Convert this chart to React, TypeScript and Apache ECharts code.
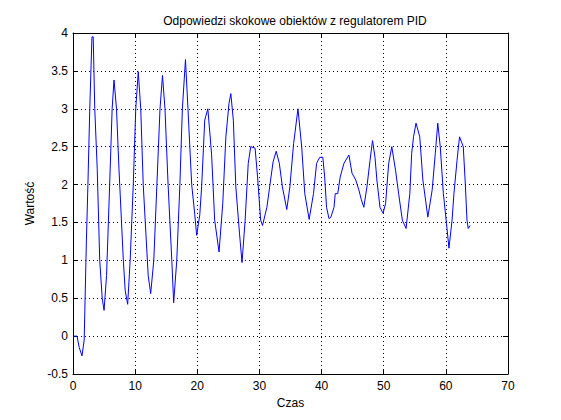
import React, { useEffect, useRef } from 'react';
import * as echarts from 'echarts';

// czas [s] i wartość wyjścia
const czas = [
    0, 0.65, 1.0, 1.45, 1.8, 2.15, 2.4, 2.7, 3.05, 3.25, 3.5, 3.9, 4.3, 4.7, 5.0, 5.4, 5.9, 6.3, 6.6, 7.0,
    7.4, 8.1, 8.4, 8.8, 9.2, 9.7, 10.1, 10.5, 10.9, 11.3, 12.1, 12.5, 13.0, 13.5, 14.0, 14.4, 14.8, 15.3,
    15.9, 16.2, 16.7, 17.2, 17.6, 18.1, 18.5, 19.1, 19.6, 19.9, 20.4, 20.7, 21.2, 21.7, 22.3, 22.8, 23.5,
    24.1, 24.6, 25.1, 25.4, 25.8, 26.2, 26.8, 27.2, 27.7, 28.2, 28.6, 29.3, 29.7, 30.2, 30.5, 31.2, 31.7,
    32.2, 32.7, 33.2, 33.7, 34.4, 34.9, 35.5, 36.2, 36.8, 37.3, 38.0, 38.7, 39.2, 39.7, 40.2, 40.5, 40.8,
    41.2, 41.5, 42.0, 42.2, 42.6, 43.0, 43.6, 44.4, 44.9, 45.5, 46.0, 46.4, 46.8, 47.3, 47.8, 48.2, 48.6,
    48.9, 49.4, 49.9, 50.3, 50.8, 51.3, 51.9, 52.4, 53.0, 53.6, 54.2, 54.5, 54.8, 55.2, 55.8, 56.3, 57.1,
    57.8, 58.3, 58.7, 59.1, 59.6, 60.1, 60.5, 61.0, 61.3, 61.8, 62.2, 62.8, 63.1, 63.4, 63.6, 63.9,
];

const wartosc = [
    0, 0, -0.15, -0.26, -0.05, 1.24, 2.0, 3.0, 3.95, 3.95, 3.0, 2.2, 1.0, 0.5, 0.34, 0.8, 2.0, 3.0, 3.38, 3.0,
    2.2, 1.0, 0.6, 0.42, 1.0, 2.0, 3.0, 3.49, 3.0, 2.0, 0.8, 0.56, 1.0, 2.0, 3.0, 3.44, 3.0, 2.0,
    1.0, 0.44, 1.0, 2.0, 3.0, 3.65, 3.0, 2.0, 1.6, 1.33, 1.6, 1.97, 2.85, 3.0, 2.4, 1.53, 1.11,
    1.75, 2.63, 3.07, 3.2, 2.85, 1.97, 1.35, 0.97, 1.53, 2.28, 2.5, 2.48, 2.1, 1.53, 1.46, 1.7, 2.0,
    2.3, 2.44, 2.28, 1.97, 1.67, 1.97, 2.54, 3.0, 2.5, 1.88, 1.54, 1.88, 2.28, 2.36, 2.36, 2.1, 1.7,
    1.55, 1.57, 1.7, 1.88, 1.88, 2.1, 2.28, 2.39, 2.15, 2.06, 1.93, 1.8, 1.7, 1.97, 2.32, 2.58, 2.36,
    2.06, 1.7, 1.62, 1.75, 2.28, 2.5, 2.19, 1.88, 1.53, 1.42, 1.88, 2.41, 2.63, 2.81, 2.63, 2.06, 1.57,
    1.93, 2.41, 2.81, 2.5, 1.88, 1.49, 1.16, 1.53, 1.88, 2.32, 2.63, 2.5, 2.06, 1.53, 1.42, 1.46,
];

const tytul = 'Odpowiedzi skokowe obiektów z regulatorem PID';
const etykietaX = 'Czas';
const etykietaY = 'Wartość';

const FONT = 'Liberation Sans, Arial, Helvetica, sans-serif';

const App: React.FC = () => {
    const chartRef = useRef<HTMLDivElement>(null);

    useEffect(() => {
        const chart = echarts.init(chartRef.current!, null, { renderer: 'svg' });

        const axisLine = { show: true, onZero: false, lineStyle: { color: '#000', width: 1 } };
        const tick = { show: true, inside: true, length: 5, lineStyle: { color: '#000' } };
        const grid = { show: true, lineStyle: { color: '#000', type: [1, 3] as number[], width: 1 } };
        const label = { color: '#000', fontSize: 12, fontFamily: FONT };

        const options: echarts.EChartsOption = {
            animation: false,
            backgroundColor: '#fff',
            textStyle: { fontFamily: FONT },
            title: {
                text: tytul,
                left: 290,
                top: 10,
                textAlign: 'center',
                textStyle: { color: '#000', fontSize: 12, fontWeight: 'normal', fontFamily: FONT },
            },
            grid: { left: 73, right: 53, top: 33, bottom: 46 },
            xAxis: [
                {
                    type: 'value',
                    min: 0,
                    max: 70,
                    interval: 10,
                    name: etykietaX,
                    nameLocation: 'middle',
                    nameGap: 22,
                    nameTextStyle: label,
                    axisLine,
                    axisTick: tick,
                    axisLabel: { ...label, margin: 6 },
                    splitLine: grid,
                },
                {
                    type: 'value',
                    position: 'top',
                    min: 0,
                    max: 70,
                    interval: 10,
                    axisLine,
                    axisTick: tick,
                    axisLabel: { show: false },
                    splitLine: { show: false },
                },
            ],
            yAxis: [
                {
                    type: 'value',
                    min: -0.5,
                    max: 4,
                    interval: 0.5,
                    name: etykietaY,
                    nameLocation: 'middle',
                    nameGap: 35,
                    nameTextStyle: label,
                    axisLine,
                    axisTick: tick,
                    axisLabel: { ...label, margin: 5 },
                    splitLine: grid,
                },
                {
                    type: 'value',
                    position: 'right',
                    min: -0.5,
                    max: 4,
                    interval: 0.5,
                    axisLine,
                    axisTick: tick,
                    axisLabel: { show: false },
                    splitLine: { show: false },
                },
            ],
            series: [
                {
                    type: 'line',
                    xAxisIndex: 0,
                    yAxisIndex: 0,
                    data: czas.map((t, i) => [t, wartosc[i]]),
                    showSymbol: false,
                    lineStyle: { color: '#0000ff', width: 1 },
                },
            ],
        };

        chart.setOption(options);
        return () => {
            chart.dispose();
        };
    }, []);

    return (
        <div
            ref={chartRef}
            style={{ position: 'absolute', left: 0, top: 0, width: 561, height: 420, background: '#fff' }}
        />
    );
};

export default App;
